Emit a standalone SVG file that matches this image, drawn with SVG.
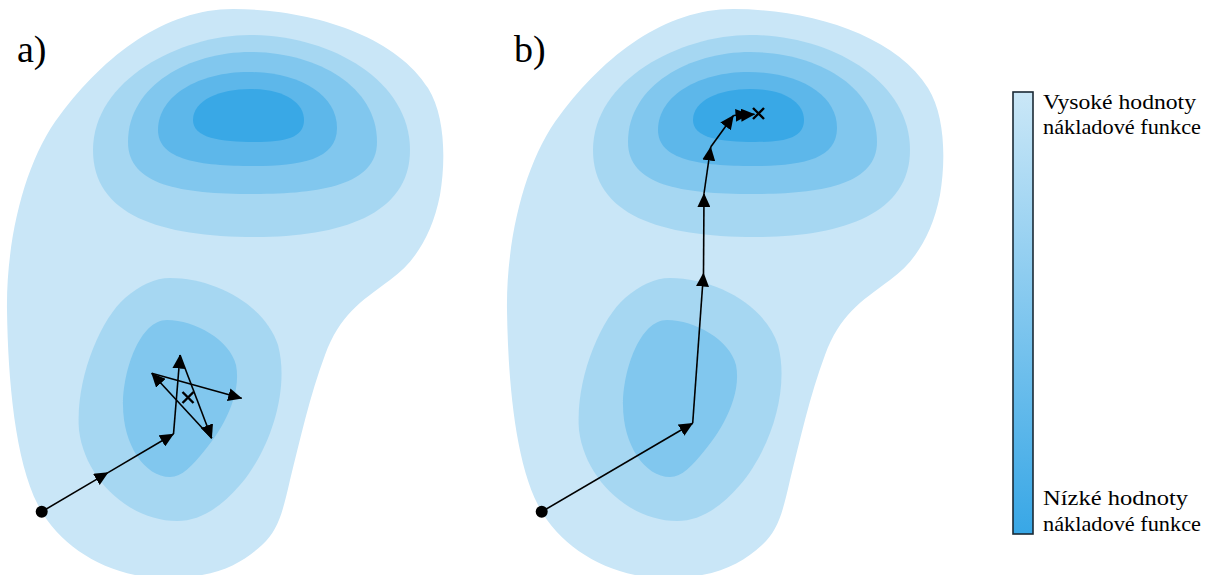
<svg xmlns="http://www.w3.org/2000/svg" xmlns:xlink="http://www.w3.org/1999/xlink" width="1212" height="575" viewBox="0 0 1212 575">
  <style>
    .c1 { fill: #c9e6f7; }
    .c2 { fill: #a6d7f2; }
    .c3 { fill: #81c7ee; }
    .c4 { fill: #5db7ea; }
    .c5 { fill: #39a8e6; }
    .step { fill: none; stroke: #000; stroke-width: 1.6; marker-end: url(#arr); }
    .xmark { stroke: #000; stroke-width: 2.4; fill: none; }
    .serif { font-family: 'Liberation Serif', 'Times New Roman', serif; fill: #000; }
  </style>
  <defs>
    <marker id="arr" viewBox="0 0 14 13" refX="13.5" refY="6.5" markerWidth="14" markerHeight="13" markerUnits="userSpaceOnUse" orient="auto">
      <path d="M0,0 L14,6.5 L0,13 z" fill="#000"/>
    </marker>
    <linearGradient id="cbar" x1="0" y1="0" x2="0" y2="1">
      <stop offset="0" stop-color="#cae7f7"/>
      <stop offset="1" stop-color="#38a7e6"/>
    </linearGradient>
    <g id="landscape">
      <path class="c1" d="M233,9 C310,9 395,35 428,88 C445,115 446,160 440,195 C432,235 415,262 390,280 C360,302 340,315 325,355 C310,395 300,440 290,480 C282,515 278,530 262,545 C240,565 215,578 165,578 C110,578 60,548 38,505 C15,460 8,380 7,310 C6,240 25,160 60,115 C105,55 165,9 233,9 Z"/>
      <path class="c2" d="M93,150 C93,80 180,35 250,35 C330,35 410,80 410,150 C410,215 340,237 255,237 C160,237 93,215 93,150 Z"/>
      <path class="c3" d="M128,142 C128,85 190,52 250,52 C315,52 377,85 377,142 C377,185 320,194 253,194 C180,194 128,185 128,142 Z"/>
      <path class="c4" d="M158,130 C158,95 200,72 248,72 C300,72 337,95 337,128 C337,160 300,166 253,166 C200,166 158,160 158,130 Z"/>
      <path class="c5" d="M193,120 C193,100 220,89 250,89 C285,89 304,103 304,120 C304,138 285,142 255,142 C220,142 193,138 193,120 Z"/>
      <path class="c2" d="M170,278 C215,278 265,305 278,345 C290,390 270,450 240,485 C220,508 200,521 177,521 C130,521 85,480 79,430 C75,380 100,320 125,298 C140,285 155,278 170,278 Z"/>
      <path class="c3" d="M167,320 C195,320 230,340 236,365 C242,395 222,430 205,450 C192,466 182,477 170,477 C145,477 123,445 123,405 C123,370 140,320 167,320 Z"/>
    </g>
  </defs>

  <g id="panel-a">
    <use xlink:href="#landscape" href="#landscape"/>
    <text class="serif" x="17" y="62" font-size="38">a)</text>
  </g>
  <g id="panel-b">
    <use xlink:href="#landscape" href="#landscape" transform="translate(500,0)"/>
    <text class="serif" x="514" y="62" font-size="38">b)</text>
  </g>

  <g id="connectors">
    <line class="step" x1="41.7" y1="511.7" x2="108" y2="472.6"/>
    <line class="step" x1="108" y1="472.6" x2="173.5" y2="434"/>
    <line class="step" x1="173.5" y1="434" x2="180" y2="355"/>
    <line class="step" x1="180" y1="355" x2="211.7" y2="438.3"/>
    <line class="step" x1="211.7" y1="438.3" x2="151.7" y2="373.3"/>
    <line class="step" x1="151.7" y1="373.3" x2="241.7" y2="398.3"/>

    <line class="step" x1="541.7" y1="511.7" x2="692.7" y2="423.3"/>
    <line class="step" x1="692.7" y1="423.3" x2="703.5" y2="273"/>
    <line class="step" x1="703.5" y1="273" x2="704" y2="193.5"/>
    <line class="step" x1="704" y1="193.5" x2="710.7" y2="147"/>
    <line class="step" x1="710.7" y1="147" x2="733.5" y2="115.5"/>
    <line class="step" x1="733.5" y1="115.5" x2="749" y2="114.6"/>
    <line class="step" x1="749" y1="114.6" x2="754.5" y2="114.2"/>
  </g>

  <g id="start-a"><circle cx="41.7" cy="511.7" r="6" fill="#000"/></g>
  <g id="start-b"><circle cx="541.7" cy="511.7" r="6" fill="#000"/></g>
  <g id="min-a"><path class="xmark" d="M182.5,392 L193.5,403 M193.5,392 L182.5,403"/></g>
  <g id="min-b"><path class="xmark" d="M753,108 L764,119 M764,108 L753,119"/></g>

  <g id="colorbar">
    <rect x="1013" y="92" width="20" height="442" fill="url(#cbar)" stroke="#1b2a35" stroke-width="1.6"/>
    <text class="serif" x="1043" y="108.5" font-size="21" textLength="153" lengthAdjust="spacingAndGlyphs">Vysoké hodnoty</text>
    <text class="serif" x="1043" y="134" font-size="21" textLength="158" lengthAdjust="spacingAndGlyphs">nákladové funkce</text>
    <text class="serif" x="1043" y="505" font-size="21" textLength="145" lengthAdjust="spacingAndGlyphs">Nízké hodnoty</text>
    <text class="serif" x="1043" y="530.5" font-size="21" textLength="158" lengthAdjust="spacingAndGlyphs">nákladové funkce</text>
  </g>
</svg>
